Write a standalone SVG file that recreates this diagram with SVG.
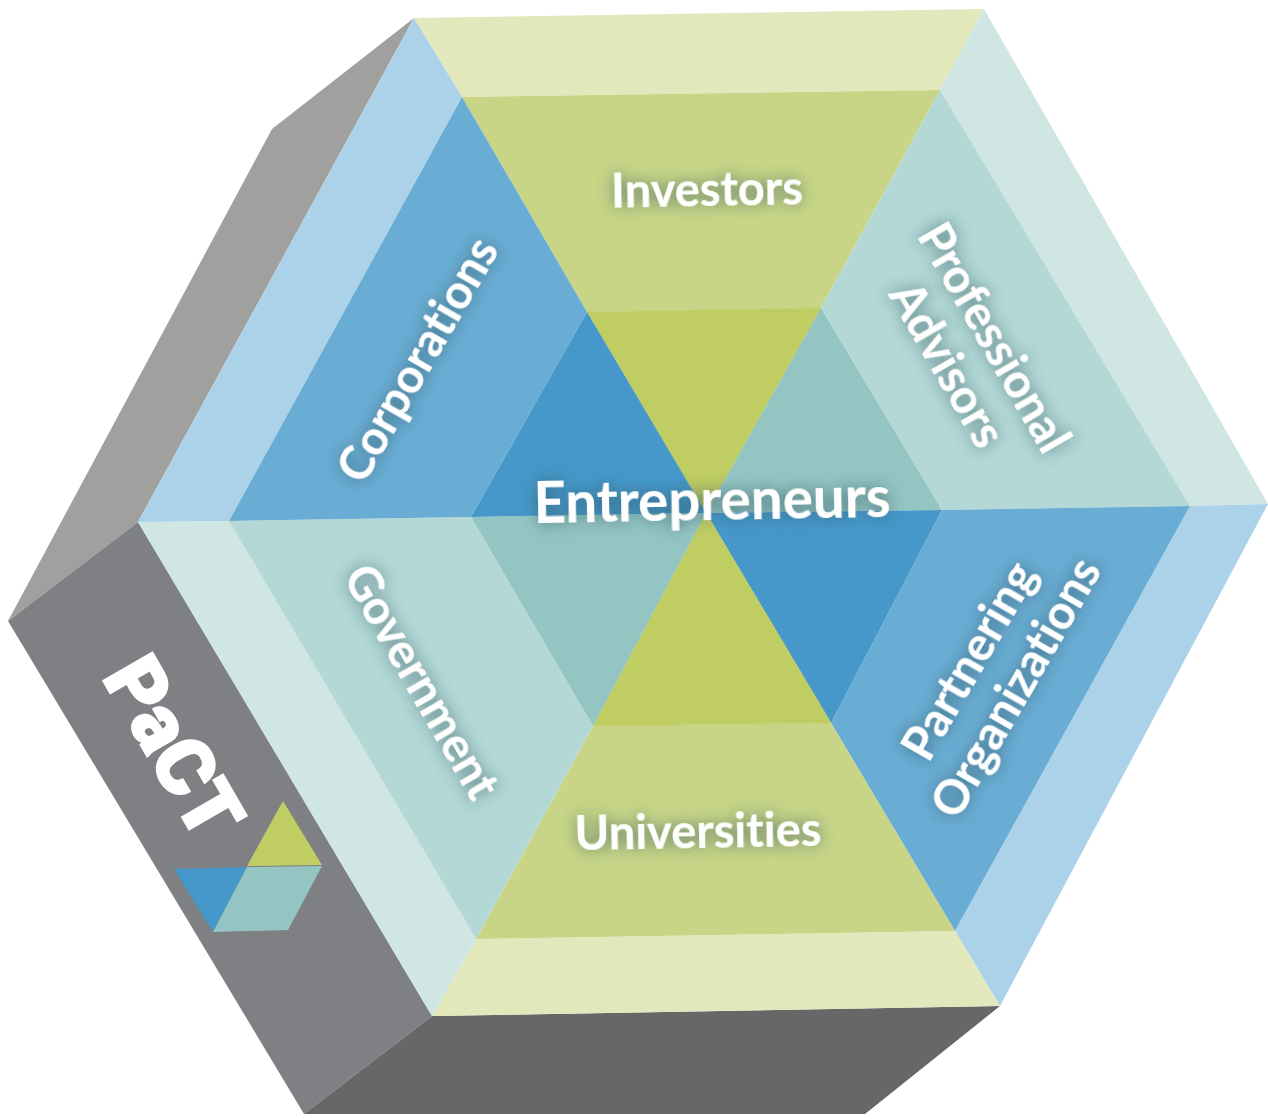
<svg xmlns="http://www.w3.org/2000/svg" width="1268" height="1119" viewBox="0 0 1268 1119">
<defs>
<filter id="g" x="-30%" y="-80%" width="160%" height="260%"><feDropShadow dx="0" dy="0" stdDeviation="8" flood-color="#2f5560" flood-opacity="0.75"/></filter>
</defs>
<style>
text{font-family:"Lato","Noto Sans","Liberation Sans",sans-serif;fill:#fff;text-anchor:middle;font-weight:700;font-variant-ligatures:none}
.s{filter:url(#g)}
.l{font-size:47px}
.e{font-size:56.5px}
.p{font-family:"Roboto","Liberation Sans",sans-serif;font-weight:900;font-size:79px;stroke:#fff;stroke-width:2.5}
</style>
<rect width="1268" height="1119" fill="#fff"/>
<g id="side-walls">
<polygon points="414,18 272,129 8,621 138,522" fill="#a0a09e"/>
<polygon points="138,522 8,621 304,1114 432,1016" fill="#7e8084"/>
<polygon points="432,1016 304,1114 865,1114 1000,1006" fill="#676767"/>
</g>
<g id="outer-rim">
<polygon points="414,18 984,9 940,90 462,97" fill="#e3e8bc"/>
<polygon points="984,9 1268,504 1190,506 940,90" fill="#cfe6e3"/>
<polygon points="1268,504 1000,1006 955,931 1190,506" fill="#acd2e9"/>
<polygon points="1000,1006 432,1016 476,939 955,931" fill="#e3e8bc"/>
<polygon points="432,1016 138,522 229,521 476,939" fill="#cfe6e3"/>
<polygon points="138,522 414,18 462,97 229,521" fill="#acd2e9"/>
</g>
<g id="investors"><polygon points="462,97 940,90 821,308 587,312" fill="#c8d587"/><polygon points="587,312 821,308 706,513" fill="#bfcd63" stroke="#bfcd63" stroke-width="0.6"/></g>
<g id="advisors"><polygon points="940,90 1190,506 942,510 821,308" fill="#b3d8d6"/><polygon points="821,308 942,510 706,513" fill="#94c5c3"/></g>
<g id="partnering"><polygon points="1190,506 955,931 831,723 942,510" fill="#6aadd4"/><polygon points="942,510 831,723 706,513" fill="#4698ca"/></g>
<g id="universities"><polygon points="955,931 476,939 593,726 831,723" fill="#c8d587"/><polygon points="593,726 831,723 706,513" fill="#bfcd63" stroke="#bfcd63" stroke-width="0.6"/></g>
<g id="government"><polygon points="476,939 229,521 471,517 593,726" fill="#b3d8d6"/><polygon points="471,517 593,726 706,513" fill="#94c5c3"/></g>
<g id="corporations"><polygon points="229,521 462,97 587,312 471,517" fill="#6aadd4"/><polygon points="587,312 471,517 706,513" fill="#4698ca"/></g>
<g id="labels">
<text class="l s" x="707" y="206" transform="rotate(-1 707 190)">Investors</text>
<text class="l s" x="418" y="376" transform="rotate(-60 418 360)">Corporations</text>
<g transform="translate(973 350) rotate(60)"><text class="l s" x="0" y="-8">Professional</text><text class="l s" x="0" y="46">Advisors</text></g>
<g transform="translate(992 674) rotate(-60)"><text class="l s" x="0" y="-10">Partnering</text><text class="l s" x="0" y="44">Organizations</text></g>
<text class="l s" x="421" y="698" transform="rotate(60 421 682)">Government</text>
<text class="l s" x="698" y="848" transform="rotate(-1 698 832)">Universities</text>
<text class="e s" x="712" y="520" transform="rotate(-1 712 500)">Entrepreneurs</text>
</g>
<g id="pact">
<text class="p" x="176" y="776" transform="rotate(60 176 746)">PaCT</text>
<polygon points="283,801 322,865 247,866" fill="#bfcd63"/>
<polygon points="174,869 247,867 213,932" fill="#4698ca"/>
<polygon points="247,867 322,866 288,930 213,932" fill="#94c5c3"/>
</g>
</svg>
